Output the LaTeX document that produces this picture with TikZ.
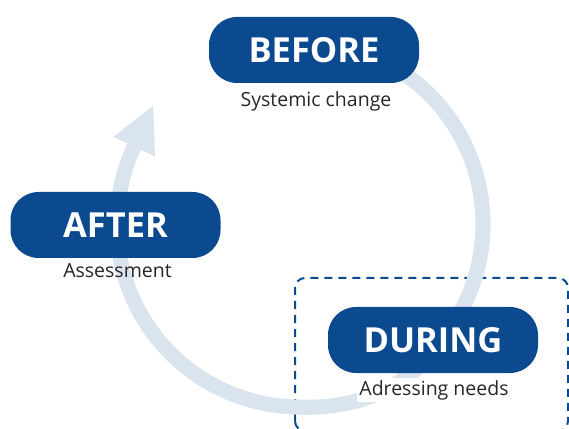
\documentclass[tikz,border=0pt]{standalone}
\usepackage{fontspec}
\setmainfont{Open Sans}
\usetikzlibrary{calc}

\definecolor{phaseblue}{RGB}{11,74,143}
\definecolor{cyclegrey}{RGB}{218,228,239}

\tikzset{
  phasebox/.style={fill=phaseblue, text=white, rounded corners=28pt,
    minimum width=210pt, minimum height=66pt, inner sep=0pt,
    font=\fontsize{34.5}{36}\selectfont\bfseries},
  phaselabel/.style={anchor=base, inner sep=2pt, text=black!85,
    font=\fontsize{19.5}{22}\selectfont},
  cycleband/.style={draw=cyclegrey, line width=15pt},
  focusframe/.style={draw=phaseblue, line width=2pt, dash pattern=on 8pt off 6pt,
    rounded corners=10pt}
}

\begin{document}
\begin{tikzpicture}[x=1pt, y=1pt]
  \useasboundingbox (0,0) rectangle (569,428);

  % centre of the cycle
  \coordinate (c) at (300,204);

  % focus frame around the DURING phase (runs off the lower edge)
  \begin{scope}
    \clip (0,0) rectangle (569,428);
    \draw[focusframe] (295,-3) rectangle (568,150);
  \end{scope}

  % cycle band, clockwise from BEFORE round to the arrow head
  \draw[cycleband] ($(c)+(60:183pt)$) arc[start angle=60, end angle=-30, radius=183pt]
    .. controls (418.5,43.2) and (364,15) .. ($(c)+(-95:183pt)$)
    arc[start angle=-95, end angle=-205, radius=183pt];
  \coordinate (tipbase) at ($(c)+(155:183pt)$);
  \fill[cyclegrey] ($(tipbase)+(155:23pt)$) -- ($(tipbase)+(65:45pt)$)
    -- ($(tipbase)+(-25:23pt)$) -- cycle;

  % phases
  \node[phasebox] (before) at (314,378) {BEFORE};
  \node[phasebox] (after) at (115.5,203) {AFTER};
  \node[phasebox] (during) at (433,88) {DURING};

  % phase descriptions
  \node[phaselabel] (beforetxt) at (316,321) {Systemic change};
  \node[phaselabel] (aftertxt) at (117.5,150) {Assessment};
  \node[phaselabel, fill=white] (duringtxt) at (434,33) {Adressing needs};
\end{tikzpicture}
\end{document}
